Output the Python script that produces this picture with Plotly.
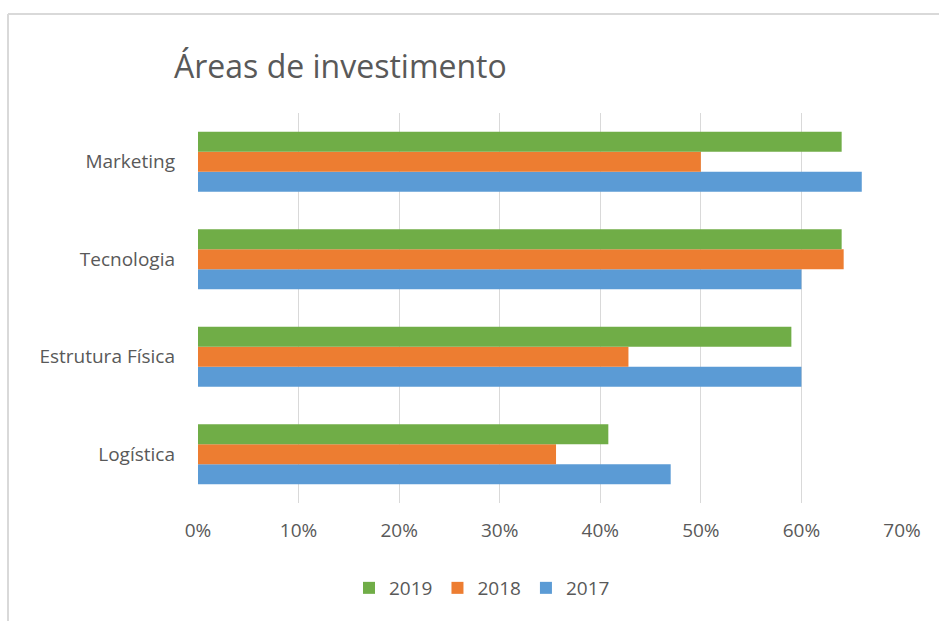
import plotly.graph_objects as go

categories = ["Logística", "Estrutura Física", "Tecnologia", "Marketing"]
series_names = ["2017", "2018", "2019"]
values_2017 = [0.47, 0.60, 0.60, 0.66]
values_2018 = [0.356, 0.428, 0.642, 0.50]
values_2019 = [0.408, 0.59, 0.64, 0.64]
colors = ["#5B9BD5", "#ED7D31", "#70AD47"]
x_ticks = [0, 0.1, 0.2, 0.3, 0.4, 0.5, 0.6, 0.7]

FONT = "Open Sans, Liberation Sans, sans-serif"
GRAY = "#595959"

fig = go.Figure()
for name, vals, col in zip(series_names, [values_2017, values_2018, values_2019], colors):
    fig.add_trace(go.Bar(y=categories, x=vals, name=name, orientation="h",
                         marker=dict(color=col, line=dict(width=0))))

L, R, T, B = 198, 37, 113, 118
W, H = 939, 621
pw, ph = W - L - R, H - T - B

def px_x(px):
    return (px - L) / pw

def px_y(py):
    return (H - B - py) / ph

fig.update_layout(
    width=W, height=H,
    margin=dict(l=L, r=R, t=T, b=B),
    paper_bgcolor="white", plot_bgcolor="white",
    barmode="group", bargap=0.385, bargroupgap=0,
    title=dict(text="Áreas de investimento", x=174 / W, xanchor="left",
               y=1 - 67 / H, yanchor="middle",
               font=dict(family=FONT, size=32, color=GRAY)),
    xaxis=dict(range=[0, 0.7], tickvals=x_ticks, tickformat=".0%",
               showgrid=True, gridcolor="#d9d9d9", gridwidth=1.3,
               zeroline=False, showline=False, ticks="",
               ticklabelstandoff=14,
               tickfont=dict(family=FONT, size=19, color=GRAY)),
    yaxis=dict(type="category", categoryorder="array", categoryarray=categories,
               showgrid=False, zeroline=False, showline=False, ticks="",
               ticklabelstandoff=22,
               tickfont=dict(family=FONT, size=19, color=GRAY)),
    legend=dict(orientation="h", traceorder="reversed", x=px_x(482), xanchor="center",
                y=px_y(588), yanchor="middle",
                font=dict(family=FONT, size=19, color=GRAY), itemwidth=30),
    showlegend=True,
)

fig.add_shape(type="line", xref="paper", yref="paper",
              x0=px_x(8), x1=px_x(W + 5), y0=px_y(14), y1=px_y(14),
              line=dict(color="#d9d9d9", width=2))
fig.add_shape(type="line", xref="paper", yref="paper",
              x0=px_x(8), x1=px_x(8), y0=px_y(14), y1=px_y(H + 5),
              line=dict(color="#d9d9d9", width=2))

fig.write_html("out.html", config={"displayModeBar": False},
               post_script="document.body.style.margin='0';document.body.style.overflow='hidden';")
